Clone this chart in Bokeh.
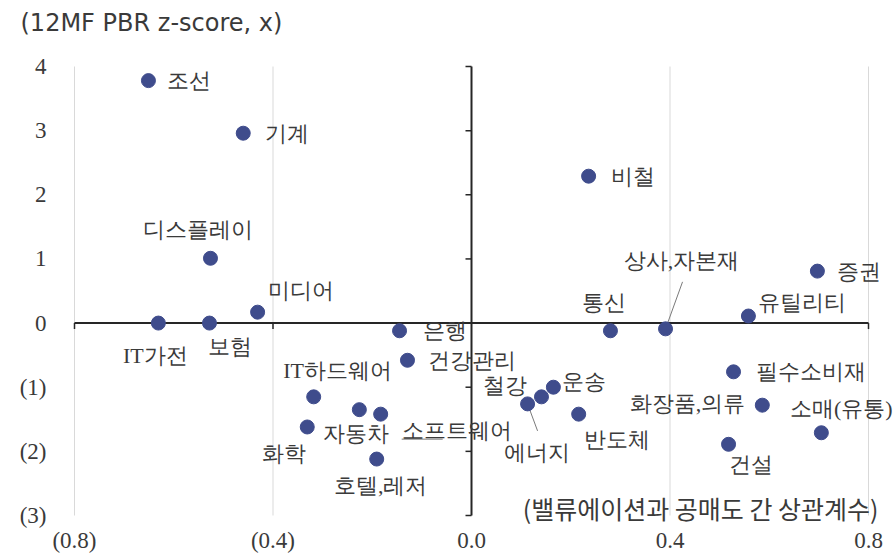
from bokeh.plotting import figure
from bokeh.models import ColumnDataSource, Label, LabelSet
from bokeh.embed import file_html
from bokeh.resources import INLINE

# ---- data ----
sectors = ["조선", "기계", "디스플레이", "미디어", "IT가전", "보험", "비철", "증권",
           "상사,자본재", "통신", "유틸리티", "은행", "건강관리", "IT하드웨어", "자동차",
           "소프트웨어", "화학", "호텔,레저", "운송", "철강", "에너지", "반도체",
           "필수소비재", "화장품,의류", "소매(유통)", "건설"]
corr = [-0.651, -0.460, -0.526, -0.431, -0.631, -0.528, 0.236, 0.697,
        0.391, 0.280, 0.558, -0.145, -0.129, -0.318, -0.226,
        -0.183, -0.331, -0.191, 0.165, 0.141, 0.113, 0.216,
        0.528, 0.586, 0.705, 0.518]
zscore = [3.78, 2.96, 1.01, 0.17, 0.0, 0.0, 2.29, 0.81,
          -0.09, -0.12, 0.11, -0.12, -0.58, -1.15, -1.35,
          -1.42, -1.62, -2.12, -1.00, -1.15, -1.26, -1.42,
          -0.76, -1.28, -1.71, -1.89]
x_ticks = [-0.8, -0.4, 0.0, 0.4, 0.8]
x_tick_labels = ["(0.8)", "(0.4)", "0.0", "0.4", "0.8"]
y_ticks = [4, 3, 2, 1, 0, -1, -2, -3]
y_tick_labels = ["4", "3", "2", "1", "0", "(1)", "(2)", "(3)"]
y_title = "(12MF PBR z-score, x)"
x_title = "(밸류에이션과 공매도 간 상관계수)"

# ---- label layout (screen px offsets from the dot, y down) ----
label_layout = {
    "조선": (19, 0, "left"), "기계": (22, 0, "left"), "디스플레이": (-12, -29, "center"),
    "미디어": (10, -22, "left"), "IT가전": (-3, 32, "center"), "보험": (21, 23, "center"),
    "비철": (22, 0, "left"), "증권": (20, 0, "left"), "상사,자본재": (16, -68, "center"),
    "통신": (-6, -28, "center"), "유틸리티": (10, -14, "left"), "은행": (23, 0, "left"),
    "건강관리": (21, 0, "left"), "IT하드웨어": (24, -26, "center"), "자동차": (-3, 24, "center"),
    "소프트웨어": (21, 16, "left"), "화학": (-23, 27, "center"), "호텔,레저": (4, 26, "center"),
    "운송": (9, -6, "left"), "철강": (-14, -11, "right"), "에너지": (9, 49, "center"),
    "반도체": (38, 25, "center"), "필수소비재": (22, 0, "left"), "화장품,의류": (-17, -2, "right"),
    "소매(유통)": (20, -24, "center"), "건설": (22, 20, "center"),
}
leaders = {  # (dx0, dy0, dx1, dy1) px from the dot, y down
    "상사,자본재": (0, 0, 17, -47),
    "에너지": (0, 0, 10, 27),
    "소프트웨어": (21, 25, 62, 25),
}

KFONT = "Noto Sans CJK KR"
NFONT = "DejaVu Sans"
TXT = "#3a3a3a"
DOT = "#3F4C8C"
AXC = "#262626"

W, H = 895, 557
# pixel box of the chart area (x: -0.8..0.8, y: -3..4)
PL, PR, PT, PB = 74, 868, 66, 515
XMIN, XMAX = x_ticks[0], x_ticks[-1]
YMIN, YMAX = y_ticks[-1], y_ticks[0]
PXX = (PR - PL) / (XMAX - XMIN)
PXY = (PB - PT) / (YMAX - YMIN)
x0r = XMIN - PL / PXX
y1r = YMAX + PT / PXY

p = figure(width=W, height=H, x_range=(x0r, x0r + W / PXX), y_range=(y1r - H / PXY, y1r),
           output_backend="svg", toolbar_location=None,
           x_axis_location=None, y_axis_location=None, min_border=0)
p.outline_line_color = None
p.grid.visible = False

# vertical gridlines
gx = [t for t in x_ticks if t != 0]
p.segment(x0=gx, x1=gx, y0=[YMIN] * len(gx), y1=[YMAX] * len(gx), line_color="#d9d9d9", line_width=1)

# zero axes
p.segment(x0=[XMIN, 0], x1=[XMAX, 0], y0=[0, YMIN], y1=[0, YMAX], line_color=AXC, line_width=2)
tick_len = 6
p.segment(x0=[0] * len(y_ticks), x1=[-tick_len / PXX] * len(y_ticks), y0=y_ticks, y1=y_ticks,
          line_color=AXC, line_width=1.5)
p.segment(x0=gx, x1=gx, y0=[0] * len(gx), y1=[-tick_len / PXY] * len(gx),
          line_color=AXC, line_width=1.5)

# leader lines
lx0, lx1, ly0, ly1 = [], [], [], []
for name, (a, b, c, d) in leaders.items():
    i = sectors.index(name)
    lx0.append(corr[i] + a / PXX); ly0.append(zscore[i] - b / PXY)
    lx1.append(corr[i] + c / PXX); ly1.append(zscore[i] - d / PXY)
p.segment(x0=lx0, y0=ly0, x1=lx1, y1=ly1, line_color="#7a7a7a", line_width=1)

# dots
p.scatter(corr, zscore, size=14, fill_color=DOT, line_color=DOT)

# point labels
for al in ("left", "center", "right"):
    idx = [i for i, s in enumerate(sectors) if label_layout[s][2] == al]
    s2 = ColumnDataSource(dict(
        x=[corr[i] for i in idx], y=[zscore[i] for i in idx],
        name=[sectors[i] for i in idx],
        dx=[label_layout[sectors[i]][0] for i in idx],
        dy=[-label_layout[sectors[i]][1] for i in idx],
    ))
    p.add_layout(LabelSet(x="x", y="y", text="name", x_offset="dx", y_offset="dy", source=s2,
                          text_align=al, text_baseline="middle", text_font=KFONT,
                          text_font_size="22px", text_color=TXT))

# tick labels
ysrc = ColumnDataSource(dict(x=[XMIN] * len(y_ticks), y=y_ticks, t=y_tick_labels))
p.add_layout(LabelSet(x="x", y="y", text="t", source=ysrc, x_offset=-28, text_align="right",
                      text_baseline="middle", text_font=NFONT, text_font_size="23px", text_color=TXT))
xsrc = ColumnDataSource(dict(x=x_ticks, y=[YMIN] * len(x_ticks), t=x_tick_labels))
p.add_layout(LabelSet(x="x", y="y", text="t", source=xsrc, y_offset=-25, text_align="center",
                      text_baseline="middle", text_font=NFONT, text_font_size="23px", text_color=TXT))

# axis titles
p.add_layout(Label(x=XMIN, y=YMAX, x_offset=-54, y_offset=44, text=y_title,
                   text_align="left", text_baseline="middle", text_font=NFONT,
                   text_font_size="24px", text_color=TXT))
p.add_layout(Label(x=XMAX, y=YMIN, x_offset=10, y_offset=8, text=x_title,
                   text_align="right", text_baseline="middle", text_font=KFONT,
                   text_font_size="25px", text_color=TXT))

open("out.html", "w").write(file_html(p, INLINE))
